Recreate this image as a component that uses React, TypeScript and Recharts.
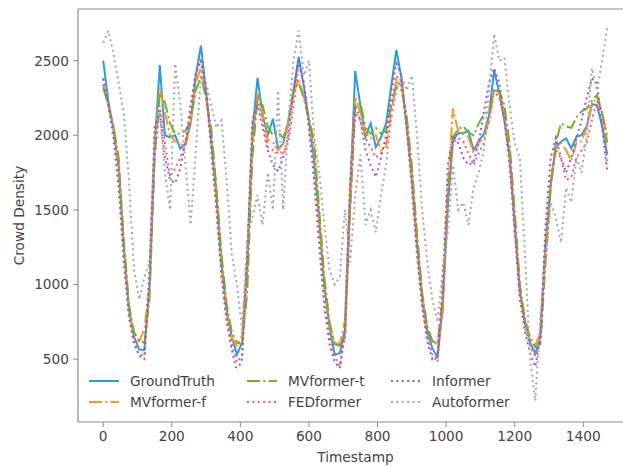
import { LineChart, Line, XAxis, YAxis, ReferenceLine } from "recharts"

// 5-minute steps sampled every 15 ticks
const timestamps = [
  0, 15, 30, 45, 60, 75, 90, 105, 120, 135,
  150, 165, 180, 195, 210, 225, 240, 255, 270, 285,
  300, 315, 330, 345, 360, 375, 390, 405, 420, 435,
  450, 465, 480, 495, 510, 525, 540, 555, 570, 585,
  600, 615, 630, 645, 660, 675, 690, 705, 720, 735,
  750, 765, 780, 795, 810, 825, 840, 855, 870, 885,
  900, 915, 930, 945, 960, 975, 990, 1005, 1020, 1035,
  1050, 1065, 1080, 1095, 1110, 1125, 1140, 1155, 1170, 1185,
  1200, 1215, 1230, 1245, 1260, 1275, 1290, 1305, 1320, 1335,
  1350, 1365, 1380, 1395, 1410, 1425, 1440, 1455, 1470,
]

const groundTruth = [
  2500, 2230, 2040, 1790, 1260, 830, 650, 565, 560, 980,
  1920, 2470, 2000, 1985, 2000, 1910, 1946, 2080, 2400, 2600,
  2290, 1960, 1610, 1140, 830, 650, 530, 610, 1180, 2020,
  2385, 2130, 2000, 2110, 1910, 1946, 2090, 2300, 2527, 2330,
  2100, 1834, 1431, 983, 715, 530, 540, 700, 1600, 2430,
  2200, 1990, 2080, 1920, 1985, 2080, 2330, 2572, 2380, 2060,
  1720, 1290, 920, 690, 570, 514, 850, 1520, 1970, 2013,
  2013, 2030, 1900, 1960, 2010, 2130, 2438, 2281, 2102, 1870,
  1410, 960, 750, 610, 536, 650, 1280, 1680, 1920, 1957,
  1979, 1912, 1990, 2001, 2060, 2210, 2200, 2060, 1870,
]

const mvformerF = [
  2340, 2200, 2050, 1800, 1250, 850, 640, 620, 700, 1000,
  1900, 2320, 2150, 2000, 1960, 1940, 1930, 2080, 2350, 2450,
  2250, 1990, 1650, 1150, 820, 640, 590, 660, 1100, 1950,
  2280, 2150, 1970, 1950, 1900, 1940, 2080, 2280, 2380, 2250,
  2100, 1900, 1450, 1000, 720, 610, 600, 760, 1650, 2260,
  2150, 2020, 1980, 2000, 1900, 1920, 2150, 2360, 2330, 2100,
  1750, 1300, 930, 700, 620, 600, 800, 1650, 2180, 2030,
  2010, 1990, 1880, 1950, 1980, 2100, 2300, 2290, 2150, 1900,
  1450, 980, 770, 640, 590, 680, 1250, 1650, 1950, 1950,
  1900, 1830, 1950, 1960, 2050, 2200, 2260, 2150, 2000,
]

const mvformerT = [
  2320, 2200, 2060, 1850, 1300, 870, 680, 620, 610, 900,
  1850, 2280, 2220, 2080, 2010, 2010, 2030, 2100, 2300, 2390,
  2250, 2050, 1650, 1200, 870, 680, 610, 600, 950, 1850,
  2250, 2200, 2060, 2000, 2020, 1980, 2100, 2300, 2350, 2250,
  2120, 1950, 1500, 1050, 750, 600, 590, 640, 1500, 2200,
  2220, 2050, 2010, 2050, 2010, 2030, 2200, 2330, 2300, 2130,
  1800, 1350, 950, 720, 620, 610, 900, 1600, 1990, 2040,
  2060, 2020, 2000, 2080, 2140, 2160, 2300, 2300, 2200, 1950,
  1500, 1000, 760, 640, 580, 600, 1150, 1650, 1950, 2080,
  2060, 2050, 2120, 2160, 2180, 2230, 2270, 2150, 1950,
]

const fedformer = [
  2380, 2220, 2050, 1750, 1200, 800, 620, 520, 500, 1000,
  1850, 2200, 1950, 1720, 1780, 1850, 1950, 2150, 2400, 2520,
  2300, 1950, 1550, 1100, 780, 600, 480, 520, 1100, 2000,
  2250, 2100, 1920, 1900, 1880, 1880, 1950, 2200, 2470, 2350,
  2050, 1750, 1350, 900, 650, 520, 450, 650, 1500, 2150,
  2100, 1980, 1920, 1850, 1880, 1950, 2200, 2400, 2350, 2050,
  1700, 1250, 880, 650, 530, 480, 900, 1600, 1950, 1980,
  1960, 1880, 1800, 1880, 1950, 2100, 2300, 2250, 2100, 1850,
  1400, 950, 720, 580, 520, 620, 1200, 1700, 1900, 1850,
  1700, 1720, 1850, 1900, 1950, 2100, 2230, 2150, 1800,
]

const informer = [
  2380, 2200, 1980, 1650, 1150, 780, 600, 530, 520, 1100,
  2050, 2150, 1850, 1700, 1680, 1780, 1950, 2200, 2420, 2500,
  2300, 1900, 1500, 1050, 750, 560, 420, 500, 1200, 2100,
  2200, 2050, 1900, 1800, 1760, 1850, 2000, 2300, 2500, 2350,
  2050, 1700, 1250, 850, 600, 480, 440, 700, 1700, 2200,
  2100, 1900, 1800, 1720, 1850, 2000, 2300, 2480, 2400, 2050,
  1650, 1200, 850, 620, 500, 520, 1000, 1800, 2000, 1950,
  1850, 1800, 1820, 1950, 2150, 2350, 2450, 2350, 2100, 1800,
  1350, 900, 680, 540, 450, 650, 1400, 1850, 1980, 1850,
  1750, 1850, 1980, 2100, 2250, 2380, 2350, 2050, 1750,
]

const autoformer = [
  2620, 2700, 2550, 2350, 2150, 1700, 1100, 900, 1050, 1150,
  2000, 2150, 1750, 1500, 2480, 2200, 1800, 1400, 1900, 2400,
  2350, 2200, 2050, 2100, 1700, 1200, 1000, 700, 1300, 1450,
  1600, 1400, 1750, 1500, 2300, 1500, 2100, 2500, 2700, 2400,
  2500, 2000, 1750, 1400, 1100, 1000, 1050, 1500, 1150, 1600,
  1870, 1400, 1500, 1350, 1600, 1800, 2100, 2300, 2400, 2300,
  2400, 2000, 1500, 1150, 900, 750, 1100, 1350, 1800, 1500,
  1550, 1400, 1650, 1750, 1900, 2300, 2680, 2500, 2520, 2200,
  1950, 1850, 1200, 500, 220, 800, 1150, 1550, 1450, 1280,
  1650, 1550, 1850, 1750, 2000, 2450, 2300, 2500, 2720,
]

const xTicks = [0, 200, 400, 600, 800, 1000, 1200, 1400]
const yTicks = [500, 1000, 1500, 2000, 2500]

const FONT = "DejaVu Sans"
const TEXT = "#444"
const SPINE = "#8a8a8a"

const DASHDOT = "13 3.3 2.1 3.3"
const DOTTED = "2 3.4"

const series = [
  { key: "gt", name: "GroundTruth", color: "#2b9be6", dash: undefined, col: 0, row: 0 },
  { key: "mf", name: "MVformer-f", color: "#ff9422", dash: DASHDOT, col: 0, row: 1 },
  { key: "mt", name: "MVformer-t", color: "#6cb42c", dash: DASHDOT, col: 1, row: 0 },
  { key: "fed", name: "FEDformer", color: "#ff5a5a", dash: DOTTED, col: 1, row: 1 },
  { key: "inf", name: "Informer", color: "#9a55c8", dash: DOTTED, col: 2, row: 0 },
  { key: "auto", name: "Autoformer", color: "#a6a6a6", dash: DOTTED, col: 2, row: 1 },
]

const legendCols = [89, 247, 391]
const legendRows = [381, 401.5]

function ChartLegend() {
  return (
    <div
      style={{
        position: "absolute",
        left: 83,
        top: 368,
        width: 437,
        height: 46,
        background: "rgba(255,255,255,0.8)",
        borderRadius: 3,
      }}
    >
      {series.map((s) => (
        <div
          key={s.key}
          style={{
            position: "absolute",
            left: legendCols[s.col] - 83,
            top: legendRows[s.row] - 368 - 10,
            height: 20,
            display: "flex",
            alignItems: "center",
            whiteSpace: "nowrap",
          }}
        >
          <svg width={30} height={6} style={{ display: "block" }}>
            <line x1={0} y1={3} x2={30} y2={3} stroke={s.color} strokeWidth={2} strokeDasharray={s.dash} />
          </svg>
          <span style={{ marginLeft: 11, fontFamily: FONT, fontSize: 13.7, color: TEXT }}>{s.name}</span>
        </div>
      ))}
    </div>
  )
}

export default function App() {
  const data = timestamps.map((t, i) => ({
    t,
    gt: groundTruth[i],
    mf: mvformerF[i],
    mt: mvformerT[i],
    fed: fedformer[i],
    inf: informer[i],
    auto: autoformer[i],
  }))

  const tickStyle = { fill: TEXT, fontSize: 13.7, fontFamily: FONT }

  return (
    <div
      style={{
        position: "fixed",
        left: 0,
        top: 0,
        width: 623,
        height: 466,
        overflow: "hidden",
        background: "#fff",
      }}
    >
      <LineChart width={640} height={466} data={data} margin={{ top: 9, right: 7, bottom: 0, left: 0 }}>
        <XAxis
          dataKey="t"
          type="number"
          domain={[-73.5, 1545]}
          allowDataOverflow
          ticks={xTicks}
          height={44}
          tickSize={5}
          tickMargin={4}
          tick={tickStyle}
          axisLine={{ stroke: SPINE, strokeWidth: 1.2 }}
          tickLine={{ stroke: SPINE }}
          label={{
            content: () => (
              <text x={355.5} y={462} textAnchor="middle" fontFamily={FONT} fontSize={13.7} fill={TEXT}>
                Timestamp
              </text>
            ),
          }}
        />
        <YAxis
          type="number"
          domain={[79, 2846]}
          allowDataOverflow
          ticks={yTicks}
          width={78}
          tickSize={5}
          tickMargin={4}
          tick={tickStyle}
          axisLine={{ stroke: SPINE, strokeWidth: 1.2 }}
          tickLine={{ stroke: SPINE }}
          label={{
            content: () => (
              <text
                x={19}
                y={215.5}
                transform="rotate(-90 19 215.5)"
                textAnchor="middle"
                dominantBaseline="central"
                fontFamily={FONT}
                fontSize={13.7}
                fill={TEXT}
              >
                Crowd Density
              </text>
            ),
          }}
        />
        <ReferenceLine y={2846} stroke={SPINE} strokeWidth={1.2} />
        {series.map((s) => (
          <Line
            key={s.key}
            dataKey={s.key}
            name={s.name}
            type="linear"
            stroke={s.color}
            strokeWidth={2}
            strokeDasharray={s.dash}
            dot={false}
            activeDot={false}
            isAnimationActive={false}
          />
        ))}
      </LineChart>
      <ChartLegend />
    </div>
  )
}
